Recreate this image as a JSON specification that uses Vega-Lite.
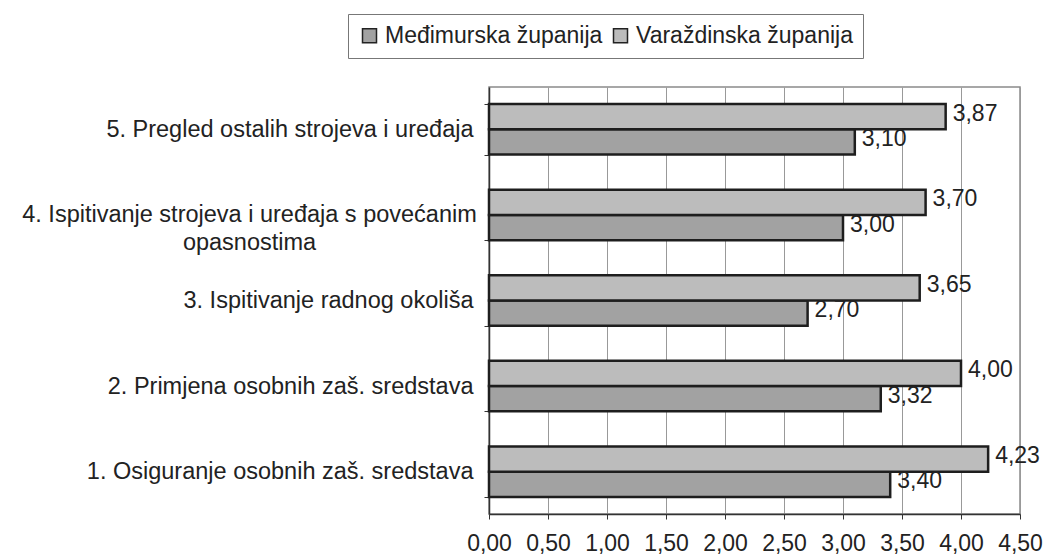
{
  "$schema": "https://vega.github.io/schema/vega-lite/v6.json",
  "autosize": {"type": "none"},
  "padding": {"left": 489, "top": 87, "right": 26, "bottom": 44},
  "width": 531,
  "height": 427,
  "background": "white",
  "data": {
    "values": [
      {"kategorija": "1. Osiguranje osobnih zaš. sredstava", "zupanija": "Međimurska županija", "vrijednost": 3.40},
      {"kategorija": "1. Osiguranje osobnih zaš. sredstava", "zupanija": "Varaždinska županija", "vrijednost": 4.23},
      {"kategorija": "2. Primjena osobnih zaš. sredstava", "zupanija": "Međimurska županija", "vrijednost": 3.32},
      {"kategorija": "2. Primjena osobnih zaš. sredstava", "zupanija": "Varaždinska županija", "vrijednost": 4.00},
      {"kategorija": "3. Ispitivanje radnog okoliša", "zupanija": "Međimurska županija", "vrijednost": 2.70},
      {"kategorija": "3. Ispitivanje radnog okoliša", "zupanija": "Varaždinska županija", "vrijednost": 3.65},
      {"kategorija": "4. Ispitivanje strojeva i uređaja s  povećanim opasnostima", "zupanija": "Međimurska županija", "vrijednost": 3.00},
      {"kategorija": "4. Ispitivanje strojeva i uređaja s  povećanim opasnostima", "zupanija": "Varaždinska županija", "vrijednost": 3.70},
      {"kategorija": "5. Pregled ostalih strojeva i uređaja", "zupanija": "Međimurska županija", "vrijednost": 3.10},
      {"kategorija": "5. Pregled ostalih strojeva i uređaja", "zupanija": "Varaždinska županija", "vrijednost": 3.87}
    ]
  },
  "encoding": {
    "y": {
      "field": "kategorija",
      "type": "nominal",
      "sort": [
        "5. Pregled ostalih strojeva i uređaja",
        "4. Ispitivanje strojeva i uređaja s  povećanim opasnostima",
        "3. Ispitivanje radnog okoliša",
        "2. Primjena osobnih zaš. sredstava",
        "1. Osiguranje osobnih zaš. sredstava"
      ],
      "scale": {"paddingInner": 0.41, "paddingOuter": 0.2},
      "axis": {
        "title": null,
        "tickBand": "extent",
        "tickSize": 5,
        "tickColor": "#333",
        "domainColor": "#333",
        "domainWidth": 1.5,
        "labelFont": "Liberation Sans",
        "labelFontSize": 23.5,
        "labelColor": "#222",
        "labelLimit": 0,
        "labelLineHeight": 28,
        "labelExpr": "datum.value == '4. Ispitivanje strojeva i uređaja s  povećanim opasnostima' ? ['4. Ispitivanje strojeva i uređaja s  povećanim', 'opasnostima'] : datum.label",
        "labelAlign": {"condition": {"test": "datum.value == '4. Ispitivanje strojeva i uređaja s  povećanim opasnostima'", "value": "center"}, "value": "right"},
        "labelPadding": {"condition": {"test": "datum.value == '4. Ispitivanje strojeva i uređaja s  povećanim opasnostima'", "value": 235}, "value": 11}
      }
    },
    "yOffset": {
      "field": "zupanija",
      "type": "nominal",
      "sort": ["Varaždinska županija", "Međimurska županija"],
      "scale": {"paddingInner": 0, "paddingOuter": 0}
    },
    "x": {
      "field": "vrijednost",
      "type": "quantitative",
      "scale": {"domain": [0, 4.5], "nice": false},
      "axis": {
        "title": null,
        "values": [0, 0.5, 1, 1.5, 2, 2.5, 3, 3.5, 4, 4.5],
        "format": ".2f",
        "grid": true,
        "gridColor": "#999999",
        "gridWidth": 1,
        "tickSize": 5,
        "tickColor": "#333",
        "domainColor": "#333",
        "domainWidth": 1.5,
        "labelFont": "Liberation Sans",
        "labelFontSize": 23,
        "labelColor": "#222",
        "labelPadding": 13,
        "labelFlush": false
      }
    }
  },
  "layer": [
    {
      "mark": {"type": "bar", "stroke": "#1e1e1e", "strokeWidth": 2.5},
      "encoding": {
        "color": {
          "field": "zupanija",
          "type": "nominal",
          "sort": ["Međimurska županija", "Varaždinska županija"],
          "scale": {"domain": ["Međimurska županija", "Varaždinska županija"], "range": ["#a2a2a2", "#bcbcbc"]},
          "legend": {
            "title": null,
            "orient": "none",
            "direction": "horizontal",
            "legendX": -141,
            "legendY": -73,
            "strokeColor": "#777",
            "padding": 10,
            "symbolType": "square",
            "symbolSize": 196,
            "symbolStrokeColor": "#222",
            "symbolStrokeWidth": 1.5,
            "symbolOpacity": 1,
            "labelFont": "Liberation Sans",
            "labelFontSize": 23,
            "labelColor": "#222",
            "labelLimit": 0,
            "labelOffset": 4,
            "columnPadding": 6
          }
        }
      }
    },
    {
      "mark": {"type": "text", "align": "left", "baseline": "middle", "dx": 7, "dy": -3, "font": "Liberation Sans", "fontSize": 23, "color": "#222"},
      "encoding": {
        "text": {"field": "vrijednost", "type": "quantitative", "format": ".2f"}
      }
    }
  ],
  "config": {
    "locale": {"number": {"decimal": ",", "thousands": ".", "grouping": [3], "currency": ["", " €"]}},
    "view": {"stroke": "#8a8a8a", "strokeWidth": 1.5}
  }
}
